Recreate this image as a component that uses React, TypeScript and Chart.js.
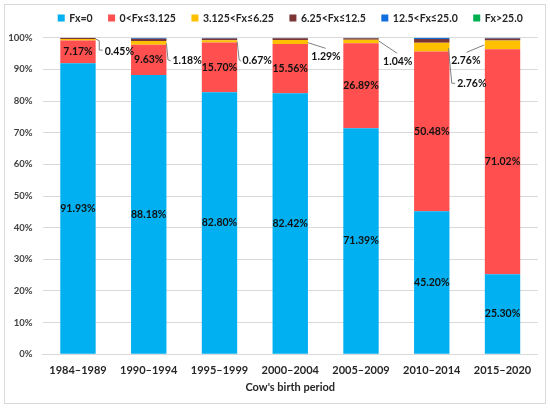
// Stacked 100% bar chart of inbreeding (Fx) classes by cow birth period.
import { useEffect, useRef } from "react";
import { Chart, registerables, type Plugin } from "chart.js";

Chart.register(...registerables);

const periods = ["1984–1989", "1990–1994", "1995–1999", "2000–2004", "2005–2009", "2010–2014", "2015–2020"];
const classNames = ["Fx=0", "0<Fx≤3.125", "3.125<Fx≤6.25", "6.25<Fx≤12.5", "12.5<Fx≤25.0", "Fx>25.0"];
const fx0 = [91.93, 88.18, 82.8, 82.42, 71.39, 45.2, 25.3];
const fx3 = [7.17, 9.63, 15.7, 15.56, 26.89, 50.48, 71.02];
const fx6 = [0.45, 1.18, 0.67, 1.29, 1.04, 2.76, 2.76];
const fx12 = [0.4, 0.7, 0.6, 0.55, 0.5, 1.15, 0.7];
const fx25 = [0.05, 0.28, 0.2, 0.16, 0.16, 0.38, 0.2];
const fxOver = [0, 0.03, 0.03, 0.02, 0.02, 0.03, 0.02];
const colors = ["#00B0F0", "#FF4F4F", "#FFC000", "#7B3535", "#0F6FDE", "#00B050"];

// leader lines for the 3.125<Fx≤6.25 labels: offsets from the bar edge / segment top
type Leader = { side: "left" | "right"; pts: [number, number][]; tx: number; ty: number; align: CanvasTextAlign };
const leaders: Leader[] = [
  { side: "right", pts: [[0, 0], [3.6, 1.6], [3.6, 11], [7, 11]], tx: 9, ty: 12.6, align: "left" },
  { side: "right", pts: [[0, 2.4], [1.6, 19], [4.3, 19.8]], tx: 6, ty: 19.8, align: "left" },
  { side: "right", pts: [[0, 1.4], [2, 19.7], [4, 20.7]], tx: 5.4, ty: 20.7, align: "left" },
  { side: "right", pts: [[0, 2.7], [17.7, 8.3]], tx: 3.4, ty: 16.7, align: "left" },
  { side: "right", pts: [[0, 1.1], [18.4, 13.4]], tx: 4.4, ty: 21.8, align: "left" },
  { side: "right", pts: [[-1, 5.6], [2.3, 40.6], [5.7, 40.6]], tx: 7.7, ty: 41.3, align: "left" },
  { side: "left", pts: [[-0.7, 4.4], [-18.3, 11.7]], tx: -4.3, ty: 20.4, align: "right" },
];

const FONT = "Lato, 'Open Sans', sans-serif";

const labelPlugin: Plugin<"bar"> = {
  id: "segLabels",
  afterDatasetsDraw(chart) {
    const ctx = chart.ctx;
    ctx.save();
    ctx.font = `bold 10.5px ${FONT}`;
    ctx.fillStyle = "#111";
    ctx.textBaseline = "middle";
    [0, 1].forEach((di) => {
      chart.getDatasetMeta(di).data.forEach((el: any, i) => {
        const v = chart.data.datasets[di].data[i] as number;
        ctx.textAlign = "center";
        ctx.fillText(v.toFixed(2) + "%", el.x, (el.y + el.base) / 2);
      });
    });
    chart.getDatasetMeta(2).data.forEach((el: any, i) => {
      const v = chart.data.datasets[2].data[i] as number;
      const L = leaders[i];
      const ax = L.side === "right" ? el.x + el.width / 2 : el.x - el.width / 2;
      const ay = el.y;
      ctx.strokeStyle = "#7f7f7f";
      ctx.lineWidth = 1;
      ctx.beginPath();
      L.pts.forEach(([dx, dy], k) => (k === 0 ? ctx.moveTo(ax + dx, ay + dy) : ctx.lineTo(ax + dx, ay + dy)));
      ctx.stroke();
      ctx.textAlign = L.align;
      ctx.fillText(v.toFixed(2) + "%", ax + L.tx, ay + L.ty);
    });
    ctx.restore();
  },
};

// simple legend row above the plot (square boxes, tight spacing like the source)
const legendPlugin: Plugin<"bar"> = {
  id: "rowLegend",
  afterDraw(chart) {
    const ctx = chart.ctx;
    const box = 7;
    const gap = 4.5;
    const itemGap = 15.5;
    ctx.save();
    ctx.font = `bold 10.5px ${FONT}`;
    ctx.textBaseline = "middle";
    ctx.textAlign = "left";
    const items = chart.data.datasets.map((d) => ({
      text: d.label as string,
      color: d.backgroundColor as string,
      w: ctx.measureText(d.label as string).width,
    }));
    const total = items.reduce((s, it) => s + box + gap + it.w, 0) + itemGap * (items.length - 1);
    const { left, right } = chart.chartArea;
    let x = (left + right) / 2 - total / 2;
    const y = 18;
    items.forEach((it) => {
      ctx.fillStyle = it.color;
      ctx.fillRect(x, y - box / 2, box, box);
      ctx.fillStyle = "#262626";
      ctx.fillText(it.text, x + box + gap, y + 0.5);
      x += box + gap + it.w + itemGap;
    });
    ctx.restore();
  },
};

export default function App() {
  const ref = useRef<HTMLCanvasElement>(null);

  useEffect(() => {
    const el = ref.current;
    if (!el) return;
    const series = [fx0, fx3, fx6, fx12, fx25, fxOver];
    const chart = new Chart(el, {
      type: "bar",
      data: {
        labels: periods,
        datasets: series.map((d, i) => ({
          label: classNames[i],
          data: d,
          backgroundColor: colors[i],
          borderWidth: 0,
          barPercentage: 0.5,
          categoryPercentage: 1,
        })),
      },
      options: {
        animation: false,
        responsive: false,
        devicePixelRatio: 1,
        layout: { padding: { left: 4.6, right: 12.1, top: 37.7, bottom: 8 } },
        plugins: {
          legend: { display: false },
          tooltip: { enabled: false },
        },
        scales: {
          x: {
            stacked: true,
            grid: { display: false, drawTicks: false },
            border: { color: "#d9d9d9" },
            ticks: { color: "#262626", font: { family: FONT, size: 11, weight: "bold" }, padding: 10 },
            title: {
              display: true,
              text: "Cow's birth period",
              color: "#262626",
              font: { family: FONT, size: 11, weight: "bold" },
              padding: { top: 0, bottom: 6 },
            },
            afterFit: (s) => {
              s.height = 45.7;
            },
          },
          y: {
            stacked: true,
            min: 0,
            max: 100,
            grid: { color: "#d9d9d9", drawTicks: false },
            border: { display: false },
            ticks: {
              stepSize: 10,
              padding: 10,
              color: "#404040",
              font: { family: FONT, size: 9.5, weight: "bold" },
              callback: (v) => v + "%",
            },
            afterFit: (s) => {
              s.width = 38;
            },
          },
        },
      },
      plugins: [labelPlugin, legendPlugin],
    });
    return () => chart.destroy();
  }, []);

  return (
    <div style={{ position: "fixed", left: 0, top: 0, width: 550, height: 408, background: "#fff" }}>
      <div
        style={{
          position: "absolute",
          left: 4,
          top: 4,
          width: 542,
          height: 400,
          boxSizing: "border-box",
          border: "1px solid #d9d9d9",
        }}
      />
      <canvas ref={ref} width={550} height={408} style={{ position: "absolute", left: 0, top: 0 }} />
    </div>
  );
}
